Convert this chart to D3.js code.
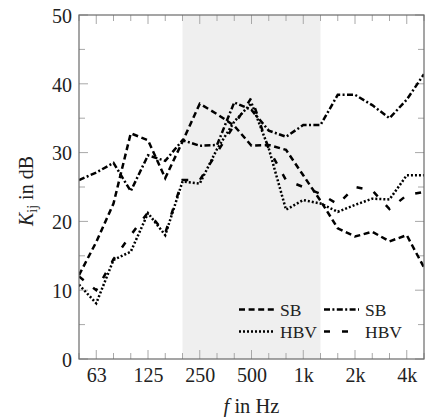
<!DOCTYPE html>
<html>
<head>
<meta charset="utf-8">
<script src="https://cdn.jsdelivr.net/npm/d3@7/dist/d3.min.js"></script>
<style>
  html, body { margin: 0; padding: 0; background: #fff; }
  svg { display: block; }
  svg text { font-family: "Liberation Serif", "DejaVu Serif", serif !important; fill: #222; }
</style>
</head>
<body>
<svg id="chart" width="425" height="417"></svg>
<script>
// Third-octave band centre frequencies (Hz)
const bands = [50, 63, 80, 100, 125, 160, 200, 250, 315, 400, 500, 630, 800,
               1000, 1250, 1600, 2000, 2500, 3150, 4000, 5000];

// Labelled octave ticks
const majorTicks = [63, 125, 250, 500, 1000, 2000, 4000];
const majorTickLabels = ["63", "125", "250", "500", "1k", "2k", "4k"];

// Highlighted frequency range
const shadedRange = [200, 1250];

// Vibration reduction index K_ij in dB per band
const sbDashed   = [12.2, 17.0, 22.6, 32.8, 31.8, 26.3, 31.6, 37.1, 35.6, 33.9, 31.0,
                    31.1, 30.4, 26.7, 23.0, 19.0, 17.8, 18.5, 17.1, 18.0, 13.3];
const sbDashDot  = [26.0, 27.1, 28.5, 24.4, 29.6, 28.8, 31.8, 31.0, 31.1, 37.3, 36.2,
                    33.2, 32.3, 34.0, 34.0, 38.4, 38.4, 36.9, 35.0, 37.7, 41.4];
const hbvDotted  = [10.8, 8.1, 14.4, 15.6, 21.2, 18.0, 25.8, 25.5, 30.5, 34.5, 37.2,
                    30.6, 21.7, 23.1, 22.6, 21.4, 22.4, 23.3, 23.2, 26.7, 26.7];
const hbvDashed  = [12.0, 10.0, 14.5, 18.0, 21.3, 18.3, 26.0, 26.0, 30.0, 34.0, 38.0,
                    30.5, 26.0, 25.0, 24.0, 22.5, 25.0, 24.5, 21.8, 23.8, 24.3];

const seriesNames = ["SB", "SB", "HBV", "HBV"];

const yTicks = [0, 10, 20, 30, 40, 50];
const yMinorTicks = [5, 15, 25, 35, 45];

const FONT = "'Liberation Serif', 'DejaVu Serif', serif";

const svg = d3.select("#chart");
const plot = { left: 79, right: 424, top: 15, bottom: 359 };

const x = d3.scalePoint().domain(bands).range([plot.left, plot.right]);
const y = d3.scaleLinear().domain([0, 50]).range([plot.bottom, plot.top]);

const series = [
  { values: sbDashed,  dash: "6,3.6" },
  { values: sbDashDot, dash: "6,2.4,2,2.4" },
  { values: hbvDotted, dash: "2,2" },
  { values: hbvDashed, dash: "6,12" }
];

// Clip region for the data lines
svg.append("defs").append("clipPath").attr("id", "plotClip")
  .append("rect")
  .attr("x", plot.left).attr("y", plot.top)
  .attr("width", plot.right - plot.left).attr("height", plot.bottom - plot.top);

// Shaded band
svg.append("rect")
  .attr("x", x(shadedRange[0]))
  .attr("y", plot.top)
  .attr("width", x(shadedRange[1]) - x(shadedRange[0]))
  .attr("height", plot.bottom - plot.top)
  .attr("fill", "#efefef");

// Tick marks (inward, on all four sides)
const tickColor = "#a8a8a8";
const ticksG = svg.append("g").attr("stroke", tickColor).attr("stroke-width", 1);
bands.forEach(b => {
  const isMajor = majorTicks.includes(b);
  const len = isMajor ? 9 : 6;
  const xp = x(b);
  ticksG.append("line").attr("x1", xp).attr("x2", xp)
    .attr("y1", plot.bottom).attr("y2", plot.bottom - len);
  ticksG.append("line").attr("x1", xp).attr("x2", xp)
    .attr("y1", plot.top).attr("y2", plot.top + len);
});
yTicks.concat(yMinorTicks).forEach(v => {
  const len = yTicks.includes(v) ? 9 : 6;
  const yp = y(v);
  ticksG.append("line").attr("x1", plot.left).attr("x2", plot.left + len)
    .attr("y1", yp).attr("y2", yp);
  ticksG.append("line").attr("x1", plot.right).attr("x2", plot.right - len)
    .attr("y1", yp).attr("y2", yp);
});

// Data lines
const line = d3.line()
  .x((d, i) => x(bands[i]))
  .y(d => y(d));

const linesG = svg.append("g").attr("clip-path", "url(#plotClip)");
series.forEach(s => {
  linesG.append("path")
    .datum(s.values)
    .attr("d", line)
    .attr("fill", "none")
    .attr("stroke", "#000")
    .attr("stroke-width", 2.5)
    .attr("stroke-dasharray", s.dash);
});

// Axis frame
svg.append("rect")
  .attr("x", plot.left).attr("y", plot.top)
  .attr("width", plot.right - plot.left).attr("height", plot.bottom - plot.top)
  .attr("fill", "none").attr("stroke", "#6a6a6a").attr("stroke-width", 1.2);

// X axis labels
const xAxis = d3.axisBottom(x).tickValues(majorTicks)
  .tickFormat(d => majorTickLabels[majorTicks.indexOf(d)])
  .tickSize(0).tickPadding(0);
const xg = svg.append("g").attr("transform", `translate(0,${plot.bottom})`).call(xAxis)
  .attr("font-family", FONT).attr("font-size", 20);
xg.select(".domain").remove();
xg.selectAll("text")
  .attr("y", 23).attr("dy", null).attr("fill", "#222");

// Y axis labels
const yAxis = d3.axisLeft(y).tickValues(yTicks).tickSize(0).tickPadding(0);
const yg = svg.append("g").attr("transform", `translate(${plot.left - 7},0)`).call(yAxis)
  .attr("font-family", FONT).attr("font-size", 20);
yg.select(".domain").remove();
yg.selectAll("text")
  .attr("x", 0).attr("dy", "0.36em").attr("fill", "#222");

// Axis titles
const xTitle = svg.append("text")
  .attr("x", (plot.left + plot.right) / 2)
  .attr("y", 413)
  .attr("text-anchor", "middle")
  .attr("font-family", FONT)
  .attr("font-size", 20.5);
xTitle.append("tspan").style("font-style", "italic").text("f");
xTitle.append("tspan").text(" in Hz");

const yTitle = svg.append("text")
  .attr("transform", `translate(33,${(plot.top + plot.bottom) / 2 + 4}) rotate(-90)`)
  .attr("text-anchor", "middle")
  .attr("font-family", FONT)
  .attr("font-size", 20);
yTitle.append("tspan").style("font-style", "italic").text("K");
yTitle.append("tspan").attr("dy", 4).attr("font-size", 14).text("ij");
yTitle.append("tspan").attr("dy", -4).text(" in dB");

// Legend (two columns)
const legendCols = [239, 324];
const legendRows = [309.5, 331.5];
const legendG = svg.append("g");
series.forEach((s, i) => {
  const col = i % 2, row = Math.floor(i / 2);
  const lx = legendCols[col], ly = legendRows[row];
  legendG.append("line")
    .attr("x1", lx).attr("x2", lx + 35)
    .attr("y1", ly).attr("y2", ly)
    .attr("stroke", "#000").attr("stroke-width", 2.5)
    .attr("stroke-dasharray", s.dash);
  legendG.append("text")
    .attr("x", lx + 41).attr("y", ly + 6)
    .attr("font-family", FONT)
    .attr("font-size", 17.5)
    .text(seriesNames[i]);
});
</script>
</body>
</html>
